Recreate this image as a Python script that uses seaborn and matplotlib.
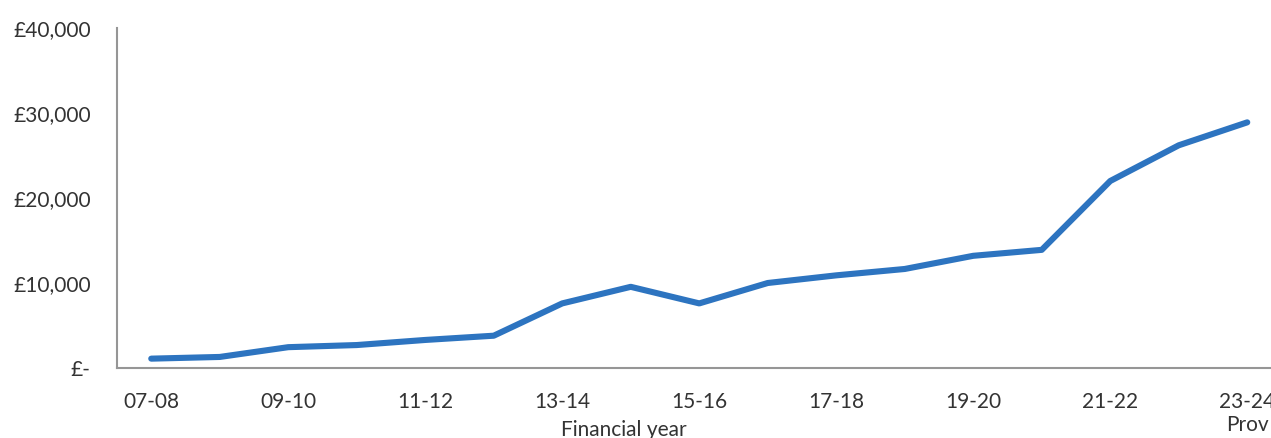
import matplotlib
matplotlib.use("Agg")
import matplotlib.pyplot as plt
from matplotlib.ticker import FuncFormatter, FixedLocator
import pandas as pd
import seaborn as sns

# Financial years and values (GBP)
years = ["07-08", "08-09", "09-10", "10-11", "11-12", "12-13", "13-14", "14-15",
         "15-16", "16-17", "17-18", "18-19", "19-20", "20-21", "21-22", "22-23",
         "23-24\nProv"]
values = [1100, 1300, 2450, 2700, 3300, 3800, 7600, 9550,
          7600, 10000, 10900, 11650, 13200, 13900, 22000, 26200,
          28900]
y_ticks = [0, 10000, 20000, 30000, 40000]

df = pd.DataFrame({"idx": range(len(years)), "year": years, "value": values})

sns.set_style("white")
plt.rcParams["font.family"] = ["Lato", "DejaVu Sans"]

text_color = "#333333"
axis_color = "#969696"
line_color = "#2d74c0"

fig = plt.figure(figsize=(12.71, 4.38), dpi=100)
ax = fig.add_axes([117 / 1271, 70 / 438, 1164.5 / 1271, 340 / 438])

sns.lineplot(data=df, x="idx", y="value", ax=ax, color=line_color,
             linewidth=4.4, solid_capstyle="round", solid_joinstyle="round")

ax.set_xlim(-0.5, len(years) - 0.5)
ax.set_ylim(0, 40000)

ax.xaxis.set_major_locator(FixedLocator(list(range(0, len(years), 2))))
ax.set_xticklabels([years[i] for i in range(0, len(years), 2)])
ax.set_yticks(y_ticks)


def gbp(v, _pos):
    return "£-" if v == 0 else f"£{int(v):,}"


ax.yaxis.set_major_formatter(FuncFormatter(gbp))

ax.tick_params(axis="x", length=0, pad=17, labelsize=15, colors=text_color)
ax.tick_params(axis="y", length=0, pad=19, labelsize=15, colors=text_color)

for side in ("top", "right"):
    ax.spines[side].set_visible(False)
for side in ("left", "bottom"):
    ax.spines[side].set_color(axis_color)
    ax.spines[side].set_linewidth(1.5)

ax.set_ylabel("")
ax.set_xlabel("Financial year", fontsize=15, color=text_color)
ax.xaxis.set_label_coords((624 - 117) / 1164.5, (368 - 420) / 340)
ax.xaxis.label.set_verticalalignment("top")

fig.savefig("out.png", dpi=100)
